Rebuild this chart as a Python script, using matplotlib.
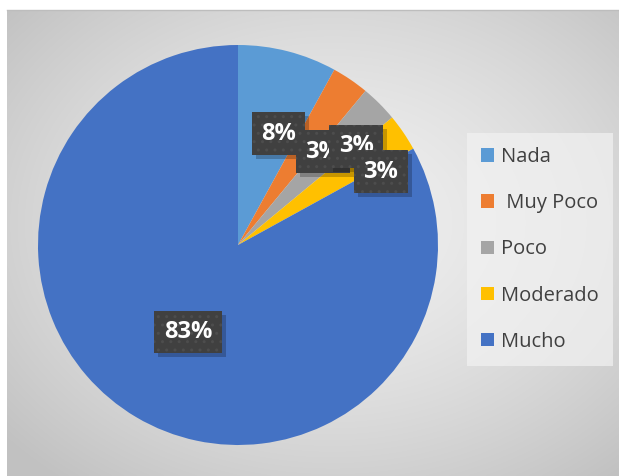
import numpy as np
import matplotlib
matplotlib.use("Agg")
import matplotlib.pyplot as plt

categories = ["Nada", " Muy Poco", "Poco", "Moderado", "Mucho"]
values = [8, 3, 3, 3, 83]
colors = ["#5B9BD5", "#ED7D31", "#A5A5A5", "#FFC000", "#4472C4"]
label_texts = ["8%", "3%", "3%", "3%", "83%"]
# label positions in pie units (radius = 1)
label_pos = [(0.2025, 0.5575), (0.425, 0.4675), (0.59, 0.4925), (0.715, 0.3675), (-0.25, -0.435)]

W, H = 619, 476
fig = plt.figure(figsize=(W / 100, H / 100), dpi=100)
fig.patch.set_facecolor("white")

# background radial gradient
bg = fig.add_axes([0, 0, 1, 1])
bg.set_xlim(0, W)
bg.set_ylim(H, 0)
bg.axis("off")
x0, y0 = 7, 10
xs = np.linspace(x0, W, 300)
ys = np.linspace(y0, H, 240)
X, Y = np.meshgrid(xs, ys)
cx, cy = (x0 + W) / 2 + 20, (y0 + H) / 2 - 20
d = np.sqrt(((X - cx) / (W - x0)) ** 2 + ((Y - cy) / (H - y0)) ** 2) / np.sqrt(0.5)
d = np.clip(d, 0, 1)
g = 0.94 - 0.18 * d ** 1.5
img = np.dstack([g, g, g])
bg.imshow(img, extent=(x0, W, H, y0), aspect="auto", interpolation="bilinear")
bg.plot([x0, W], [y0, y0], color="#bdbdbd", lw=1)

# pie
cxp, cyp, R = 238, 245, 200
ax = fig.add_axes([(cxp - R) / W, (H - cyp - R) / H, 2 * R / W, 2 * R / H])
ax.set_facecolor("none")
wedges, _ = ax.pie(values, colors=colors, startangle=90, counterclock=False,
                   radius=1, wedgeprops=dict(linewidth=0))
ax.set_xlim(-1, 1)
ax.set_ylim(-1, 1)
ax.set_aspect("equal")
ax.axis("off")

for txt, (lx, ly) in zip(label_texts, label_pos):
    # shadow
    ax.text(lx + 0.02, ly - 0.02, txt, ha="center", va="center", fontsize=17,
            fontweight="bold", family="Open Sans", color=(0, 0, 0, 0),
            bbox=dict(boxstyle="square,pad=0.4", facecolor="black", alpha=0.22, linewidth=0))
    ax.text(lx, ly, txt, ha="center", va="center", fontsize=17,
            fontweight="bold", family="Open Sans", color="white",
            bbox=dict(boxstyle="square,pad=0.4", facecolor="#404040", edgecolor="#4d4d4d",
                      linewidth=0, hatch=".."))

# legend
leg = fig.legend(wedges, categories, loc="upper left",
                 bbox_to_anchor=(467 / W, 1 - 133 / H),
                 frameon=True, fancybox=False,
                 prop=dict(family="Open Sans", size=14.5),
                 handlelength=0.65, handleheight=0.65, handletextpad=0.35,
                 labelspacing=1.3, borderpad=0.7, borderaxespad=0, labelcolor="#404040")
leg.get_frame().set_facecolor("#f2f2f2")
leg.get_frame().set_alpha(0.7)
leg.get_frame().set_linewidth(0)

fig.savefig("out.png", dpi=100)
